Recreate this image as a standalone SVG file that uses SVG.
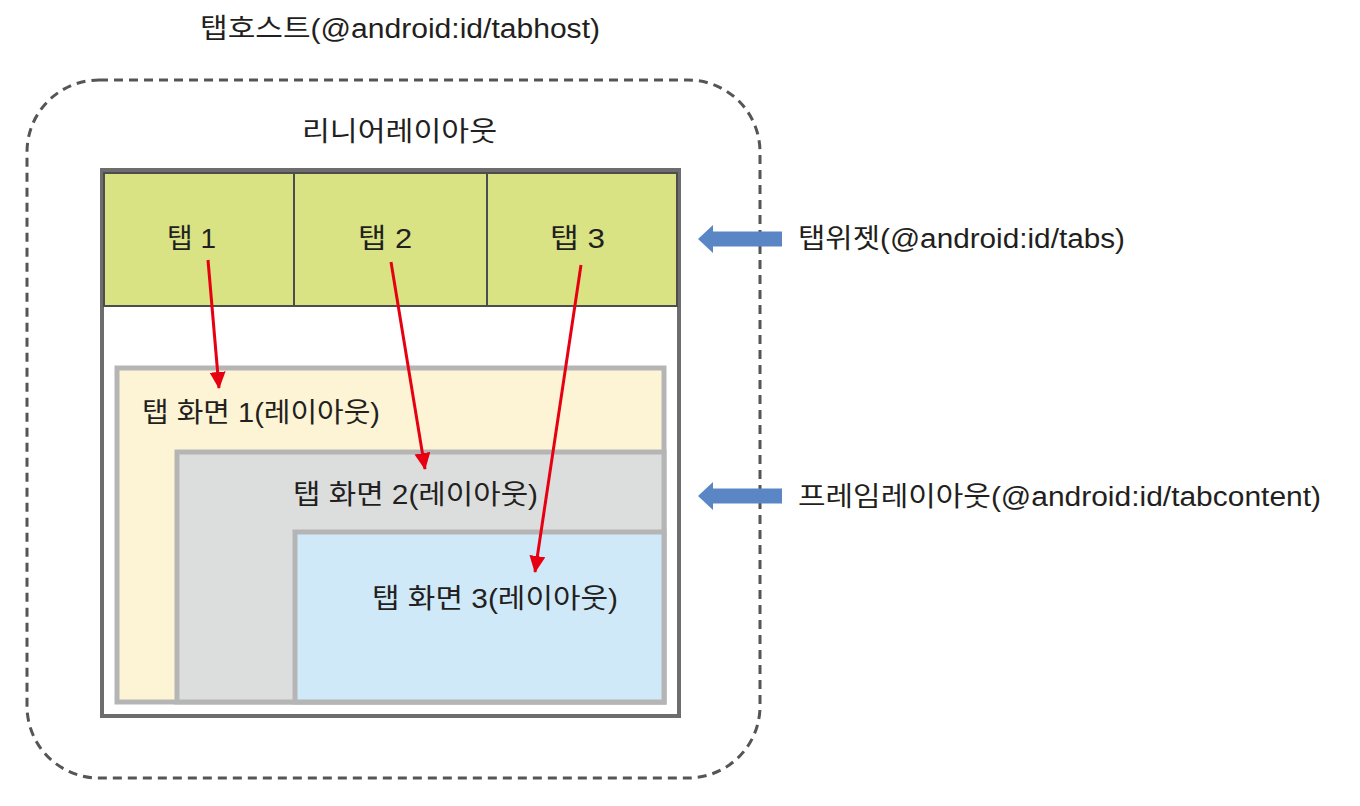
<svg xmlns="http://www.w3.org/2000/svg" width="1360" height="806" viewBox="0 0 1360 806">
<style>
  text { font-family: "Liberation Sans", "Noto Sans CJK KR", sans-serif; font-size: 27px; fill: #231f20; }
  .red { stroke: #e60012; stroke-width: 3; fill: none; marker-end: url(#redhead); }
  .tab { fill: #d9e383; stroke: #4d4d4d; stroke-width: 2; }
  .scr { stroke: #b5b5b5; stroke-width: 5; }
</style>
<defs>
  <marker id="redhead" markerWidth="17" markerHeight="16" refX="16" refY="8" orient="auto" markerUnits="userSpaceOnUse" viewBox="0 0 17 16">
    <path d="M0,0 L17,8 L0,16 Z" fill="#e60012"/>
  </marker>
  <path id="bluearrow" d="M0,0 L15,-14 L15,-7.5 L84,-7.5 L84,7.5 L15,7.5 L15,14 Z" fill="#5b86c5"/>
</defs>
<rect width="1360" height="806" fill="#ffffff"/>

<g id="tabhost">
  <rect x="27" y="80" width="733" height="698" rx="72" ry="72" fill="none" stroke="#555555" stroke-width="3" stroke-dasharray="9,6"/>
  <text x="200" y="38" textLength="400" lengthAdjust="spacingAndGlyphs">탭호스트(@android:id/tabhost)</text>
</g>

<g id="linearlayout">
  <rect x="102" y="170" width="577" height="546" fill="#ffffff" stroke="#6d6d6d" stroke-width="4"/>
  <text x="302" y="141" textLength="195" lengthAdjust="spacingAndGlyphs">리니어레이아웃</text>
</g>

<g id="tab1">
  <rect class="tab" x="104" y="173" width="190" height="133"/>
  <text x="167" y="248" textLength="49" lengthAdjust="spacingAndGlyphs">탭 1</text>
</g>
<g id="tab2">
  <rect class="tab" x="294" y="173" width="193" height="133"/>
  <text x="358" y="248" textLength="54" lengthAdjust="spacingAndGlyphs">탭 2</text>
</g>
<g id="tab3">
  <rect class="tab" x="487" y="173" width="190" height="133"/>
  <text x="550" y="248" textLength="55" lengthAdjust="spacingAndGlyphs">탭 3</text>
</g>

<g id="screen1">
  <rect class="scr" x="117" y="368" width="547" height="334" fill="#fdf3d5"/>
  <text x="142" y="422" textLength="238" lengthAdjust="spacingAndGlyphs">탭 화면 1(레이아웃)</text>
</g>
<g id="screen2">
  <rect class="scr" x="177" y="452" width="487" height="250" fill="#dcdddd"/>
  <text x="293" y="504" textLength="245" lengthAdjust="spacingAndGlyphs">탭 화면 2(레이아웃)</text>
</g>
<g id="screen3">
  <rect class="scr" x="295" y="532" width="369" height="170" fill="#d0e9f8"/>
  <text x="372" y="608" textLength="246" lengthAdjust="spacingAndGlyphs">탭 화면 3(레이아웃)</text>
</g>

<g id="tabwidget-label">
  <text x="798" y="248" textLength="327" lengthAdjust="spacingAndGlyphs">탭위젯(@android:id/tabs)</text>
</g>
<g id="framelayout-label">
  <text x="798" y="506" textLength="523" lengthAdjust="spacingAndGlyphs">프레임레이아웃(@android:id/tabcontent)</text>
</g>

<g id="connectors">
  <line class="red" x1="208" y1="260" x2="219" y2="388"/>
  <line class="red" x1="391" y1="262" x2="425" y2="469"/>
  <line class="red" x1="581" y1="265" x2="535" y2="572"/>
  <use href="#bluearrow" x="698" y="239"/>
  <use href="#bluearrow" x="698" y="496"/>
</g>
</svg>
